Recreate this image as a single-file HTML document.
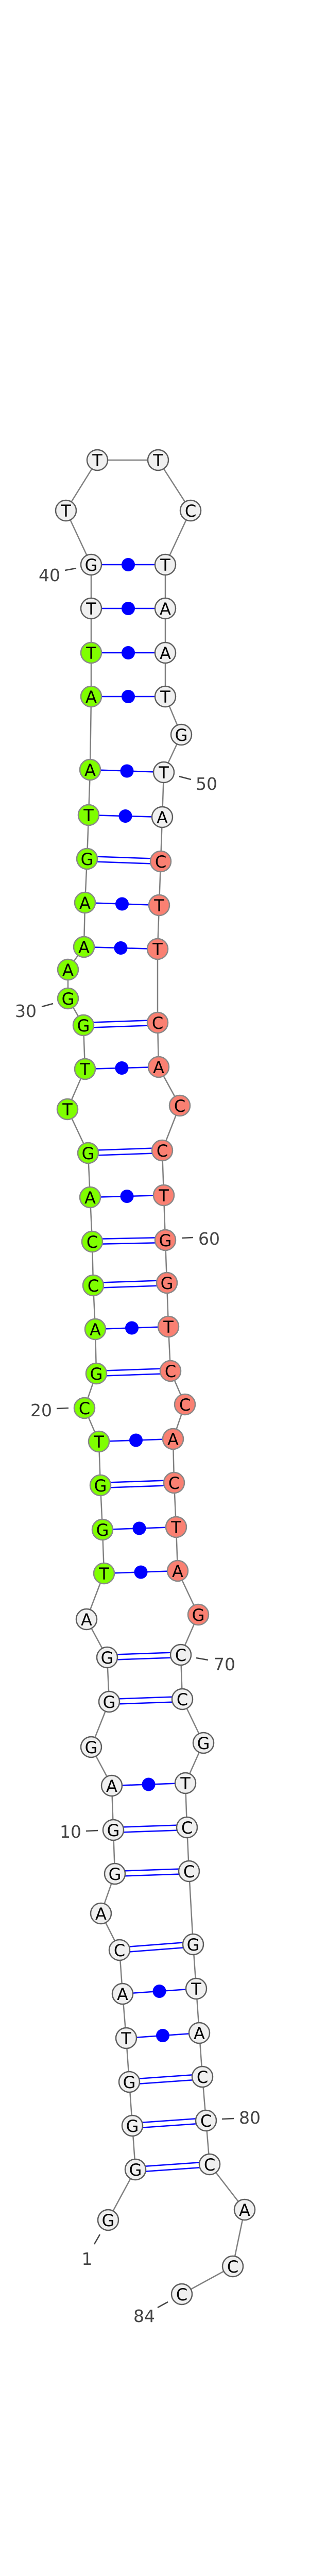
<!DOCTYPE html>
<html>
<head>
<meta charset="utf-8">
<style>
html,body{margin:0;padding:0;background:#fff;width:600px;height:5365px;overflow:hidden;position:relative;}
svg{display:block;position:absolute;left:0;top:0;}
.n text{font-family:"DejaVu Sans","Liberation Sans",sans-serif;font-size:32px;text-anchor:middle;fill:#000;}
.lbl{font-family:"DejaVu Sans","Liberation Sans",sans-serif;font-size:33px;text-anchor:middle;fill:#444;}
.w circle{fill:#f0f0f0;stroke:#5e5e5e;stroke-width:2.5;}
.g circle{fill:#7fff00;stroke:#888;stroke-width:2.5;}
.s circle{fill:#fa8072;stroke:#888;stroke-width:2.5;}
.b line{stroke:#0000ff;stroke-width:2.5;}
.t line{stroke:#444;stroke-width:2.5;}
</style>
</head>
<body>
<svg width="600" height="5365" viewBox="0 0 600 5365" xmlns="http://www.w3.org/2000/svg" overflow="hidden">
<polyline fill="none" stroke="#808080" stroke-width="2.5" points="210,4309 263,4211 257,4126 251,4041 245,3956 238,3870 232,3785 196,3714 223,3637 220,3552 217,3466 177,3391 212,3303 208,3217 168,3143 202,3054 199,2969 195,2883 192,2798 164,2733 187,2666 185,2580 181,2495 179,2410 175,2324 171,2238 131,2153 165,2075 162,1990 132,1938 132,1882 163,1838 165,1752 169,1667 172,1582 175,1494 177,1352 177,1267 177,1181 177,1096 128,991 189,893 307,893 370,991 321,1096 321,1181 321,1267 321,1352 352,1426 318,1499 315,1586 312,1672 309,1757 306,1842 306,1985 308,2071 349,2146 315,2233 318,2320 321,2407 324,2490 327,2575 331,2661 359,2726 336,2793 338,2878 342,2964 345,3049 385,3134 351,3212 354,3298 395,3383 360,3461 363,3547 367,3632 375,3774 381,3860 387,3946 393,4031 400,4116 407,4201 475,4289 452,4399 353,4453"/>
<g class="b">
<line x1="177" y1="1096" x2="321" y2="1096"/>
<line x1="177" y1="1181" x2="321" y2="1181"/>
<line x1="177" y1="1267" x2="321" y2="1267"/>
<line x1="177" y1="1352" x2="321" y2="1352"/>
<line x1="175" y1="1494" x2="318" y2="1499"/>
<line x1="172" y1="1582" x2="315" y2="1586"/>
<line x1="165" y1="1752" x2="309" y2="1757"/>
<line x1="163" y1="1838" x2="306" y2="1842"/>
<line x1="165" y1="2075" x2="308" y2="2071"/>
<line x1="175" y1="2324" x2="318" y2="2320"/>
<line x1="185" y1="2580" x2="327" y2="2575"/>
<line x1="192" y1="2798" x2="336" y2="2793"/>
<line x1="199" y1="2969" x2="342" y2="2964"/>
<line x1="202" y1="3054" x2="345" y2="3049"/>
<line x1="217" y1="3466" x2="360" y2="3461"/>
<line x1="238" y1="3870" x2="381" y2="3860"/>
<line x1="245" y1="3956" x2="387" y2="3946"/>
<line x1="169" y1="1662" x2="312" y2="1667"/><line x1="169" y1="1672" x2="312" y2="1677"/>
<line x1="162" y1="1985" x2="306" y2="1980"/><line x1="162" y1="1995" x2="306" y2="1990"/>
<line x1="171" y1="2233" x2="315" y2="2228"/><line x1="171" y1="2243" x2="315" y2="2238"/>
<line x1="179" y1="2405" x2="321" y2="2402"/><line x1="179" y1="2415" x2="321" y2="2412"/>
<line x1="181" y1="2490" x2="324" y2="2485"/><line x1="181" y1="2500" x2="324" y2="2495"/>
<line x1="187" y1="2661" x2="331" y2="2656"/><line x1="187" y1="2671" x2="331" y2="2666"/>
<line x1="195" y1="2878" x2="338" y2="2873"/><line x1="195" y1="2888" x2="338" y2="2883"/>
<line x1="208" y1="3212" x2="351" y2="3207"/><line x1="208" y1="3222" x2="351" y2="3217"/>
<line x1="212" y1="3298" x2="354" y2="3293"/><line x1="212" y1="3308" x2="354" y2="3303"/>
<line x1="220" y1="3547" x2="363" y2="3542"/><line x1="220" y1="3557" x2="363" y2="3552"/>
<line x1="223" y1="3632" x2="367" y2="3627"/><line x1="223" y1="3642" x2="367" y2="3637"/>
<line x1="232" y1="3780" x2="375" y2="3769"/><line x1="232" y1="3790" x2="375" y2="3779"/>
<line x1="251" y1="4036" x2="393" y2="4026"/><line x1="251" y1="4046" x2="393" y2="4036"/>
<line x1="257" y1="4121" x2="400" y2="4111"/><line x1="257" y1="4131" x2="400" y2="4121"/>
<line x1="263" y1="4206" x2="407" y2="4196"/><line x1="263" y1="4216" x2="407" y2="4206"/>
</g>
<g fill="#0000ff">
<circle cx="249" cy="1096" r="13"/>
<circle cx="249" cy="1181" r="13"/>
<circle cx="249" cy="1267" r="13"/>
<circle cx="249" cy="1352" r="13"/>
<circle cx="246.5" cy="1496.5" r="13"/>
<circle cx="243.5" cy="1584" r="13"/>
<circle cx="237" cy="1754.5" r="13"/>
<circle cx="234.5" cy="1840" r="13"/>
<circle cx="236.5" cy="2073" r="13"/>
<circle cx="246.5" cy="2322" r="13"/>
<circle cx="256" cy="2577.5" r="13"/>
<circle cx="264" cy="2795.5" r="13"/>
<circle cx="270.5" cy="2966.5" r="13"/>
<circle cx="273.5" cy="3051.5" r="13"/>
<circle cx="288.5" cy="3463.5" r="13"/>
<circle cx="309.5" cy="3865" r="13"/>
<circle cx="316" cy="3951" r="13"/>
</g>
<g class="t">
<line x1="126" y1="1107" x2="148" y2="1103"/>
<line x1="348" y1="1507" x2="371" y2="1513"/>
<line x1="81" y1="1954" x2="103" y2="1948"/>
<line x1="110" y1="2734" x2="133" y2="2733"/>
<line x1="353" y1="2403" x2="375" y2="2402"/>
<line x1="381" y1="3218" x2="404" y2="3222"/>
<line x1="167" y1="3554" x2="190" y2="3553"/>
<line x1="431" y1="4113" x2="454" y2="4112"/>
<line x1="194" y1="4337" x2="183" y2="4356"/>
<line x1="326" y1="4468" x2="306" y2="4479"/>
</g>
<g class="n">
<g class="w"><circle cx="210" cy="4309" r="20"/><text x="210" y="4321">G</text></g>
<g class="w"><circle cx="263" cy="4211" r="20"/><text x="263" y="4223">G</text></g>
<g class="w"><circle cx="257" cy="4126" r="20"/><text x="257" y="4138">G</text></g>
<g class="w"><circle cx="251" cy="4041" r="20"/><text x="251" y="4053">G</text></g>
<g class="w"><circle cx="245" cy="3956" r="20"/><text x="245" y="3968">T</text></g>
<g class="w"><circle cx="238" cy="3870" r="20"/><text x="238" y="3882">A</text></g>
<g class="w"><circle cx="232" cy="3785" r="20"/><text x="232" y="3797">C</text></g>
<g class="w"><circle cx="196" cy="3714" r="20"/><text x="196" y="3726">A</text></g>
<g class="w"><circle cx="223" cy="3637" r="20"/><text x="223" y="3649">G</text></g>
<g class="w"><circle cx="220" cy="3552" r="20"/><text x="220" y="3564">G</text></g>
<g class="w"><circle cx="217" cy="3466" r="20"/><text x="217" y="3478">A</text></g>
<g class="w"><circle cx="177" cy="3391" r="20"/><text x="177" y="3403">G</text></g>
<g class="w"><circle cx="212" cy="3303" r="20"/><text x="212" y="3315">G</text></g>
<g class="w"><circle cx="208" cy="3217" r="20"/><text x="208" y="3229">G</text></g>
<g class="w"><circle cx="168" cy="3143" r="20"/><text x="168" y="3155">A</text></g>
<g class="g"><circle cx="202" cy="3054" r="20"/><text x="202" y="3066">T</text></g>
<g class="g"><circle cx="199" cy="2969" r="20"/><text x="199" y="2981">G</text></g>
<g class="g"><circle cx="195" cy="2883" r="20"/><text x="195" y="2895">G</text></g>
<g class="g"><circle cx="192" cy="2798" r="20"/><text x="192" y="2810">T</text></g>
<g class="g"><circle cx="164" cy="2733" r="20"/><text x="164" y="2745">C</text></g>
<g class="g"><circle cx="187" cy="2666" r="20"/><text x="187" y="2678">G</text></g>
<g class="g"><circle cx="185" cy="2580" r="20"/><text x="185" y="2592">A</text></g>
<g class="g"><circle cx="181" cy="2495" r="20"/><text x="181" y="2507">C</text></g>
<g class="g"><circle cx="179" cy="2410" r="20"/><text x="179" y="2422">C</text></g>
<g class="g"><circle cx="175" cy="2324" r="20"/><text x="175" y="2336">A</text></g>
<g class="g"><circle cx="171" cy="2238" r="20"/><text x="171" y="2250">G</text></g>
<g class="g"><circle cx="131" cy="2153" r="20"/><text x="131" y="2165">T</text></g>
<g class="g"><circle cx="165" cy="2075" r="20"/><text x="165" y="2087">T</text></g>
<g class="g"><circle cx="162" cy="1990" r="20"/><text x="162" y="2002">G</text></g>
<g class="g"><circle cx="132" cy="1938" r="20"/><text x="132" y="1950">G</text></g>
<g class="g"><circle cx="132" cy="1882" r="20"/><text x="132" y="1894">A</text></g>
<g class="g"><circle cx="163" cy="1838" r="20"/><text x="163" y="1850">A</text></g>
<g class="g"><circle cx="165" cy="1752" r="20"/><text x="165" y="1764">A</text></g>
<g class="g"><circle cx="169" cy="1667" r="20"/><text x="169" y="1679">G</text></g>
<g class="g"><circle cx="172" cy="1582" r="20"/><text x="172" y="1594">T</text></g>
<g class="g"><circle cx="175" cy="1494" r="20"/><text x="175" y="1506">A</text></g>
<g class="g"><circle cx="177" cy="1352" r="20"/><text x="177" y="1364">A</text></g>
<g class="g"><circle cx="177" cy="1267" r="20"/><text x="177" y="1279">T</text></g>
<g class="w"><circle cx="177" cy="1181" r="20"/><text x="177" y="1193">T</text></g>
<g class="w"><circle cx="177" cy="1096" r="20"/><text x="177" y="1108">G</text></g>
<g class="w"><circle cx="128" cy="991" r="20"/><text x="128" y="1003">T</text></g>
<g class="w"><circle cx="189" cy="893" r="20"/><text x="189" y="905">T</text></g>
<g class="w"><circle cx="307" cy="893" r="20"/><text x="307" y="905">T</text></g>
<g class="w"><circle cx="370" cy="991" r="20"/><text x="370" y="1003">C</text></g>
<g class="w"><circle cx="321" cy="1096" r="20"/><text x="321" y="1108">T</text></g>
<g class="w"><circle cx="321" cy="1181" r="20"/><text x="321" y="1193">A</text></g>
<g class="w"><circle cx="321" cy="1267" r="20"/><text x="321" y="1279">A</text></g>
<g class="w"><circle cx="321" cy="1352" r="20"/><text x="321" y="1364">T</text></g>
<g class="w"><circle cx="352" cy="1426" r="20"/><text x="352" y="1438">G</text></g>
<g class="w"><circle cx="318" cy="1499" r="20"/><text x="318" y="1511">T</text></g>
<g class="w"><circle cx="315" cy="1586" r="20"/><text x="315" y="1598">A</text></g>
<g class="s"><circle cx="312" cy="1672" r="20"/><text x="312" y="1684">C</text></g>
<g class="s"><circle cx="309" cy="1757" r="20"/><text x="309" y="1769">T</text></g>
<g class="s"><circle cx="306" cy="1842" r="20"/><text x="306" y="1854">T</text></g>
<g class="s"><circle cx="306" cy="1985" r="20"/><text x="306" y="1997">C</text></g>
<g class="s"><circle cx="308" cy="2071" r="20"/><text x="308" y="2083">A</text></g>
<g class="s"><circle cx="349" cy="2146" r="20"/><text x="349" y="2158">C</text></g>
<g class="s"><circle cx="315" cy="2233" r="20"/><text x="315" y="2245">C</text></g>
<g class="s"><circle cx="318" cy="2320" r="20"/><text x="318" y="2332">T</text></g>
<g class="s"><circle cx="321" cy="2407" r="20"/><text x="321" y="2419">G</text></g>
<g class="s"><circle cx="324" cy="2490" r="20"/><text x="324" y="2502">G</text></g>
<g class="s"><circle cx="327" cy="2575" r="20"/><text x="327" y="2587">T</text></g>
<g class="s"><circle cx="331" cy="2661" r="20"/><text x="331" y="2673">C</text></g>
<g class="s"><circle cx="359" cy="2726" r="20"/><text x="359" y="2738">C</text></g>
<g class="s"><circle cx="336" cy="2793" r="20"/><text x="336" y="2805">A</text></g>
<g class="s"><circle cx="338" cy="2878" r="20"/><text x="338" y="2890">C</text></g>
<g class="s"><circle cx="342" cy="2964" r="20"/><text x="342" y="2976">T</text></g>
<g class="s"><circle cx="345" cy="3049" r="20"/><text x="345" y="3061">A</text></g>
<g class="s"><circle cx="385" cy="3134" r="20"/><text x="385" y="3146">G</text></g>
<g class="w"><circle cx="351" cy="3212" r="20"/><text x="351" y="3224">C</text></g>
<g class="w"><circle cx="354" cy="3298" r="20"/><text x="354" y="3310">C</text></g>
<g class="w"><circle cx="395" cy="3383" r="20"/><text x="395" y="3395">G</text></g>
<g class="w"><circle cx="360" cy="3461" r="20"/><text x="360" y="3473">T</text></g>
<g class="w"><circle cx="363" cy="3547" r="20"/><text x="363" y="3559">C</text></g>
<g class="w"><circle cx="367" cy="3632" r="20"/><text x="367" y="3644">C</text></g>
<g class="w"><circle cx="375" cy="3774" r="20"/><text x="375" y="3786">G</text></g>
<g class="w"><circle cx="381" cy="3860" r="20"/><text x="381" y="3872">T</text></g>
<g class="w"><circle cx="387" cy="3946" r="20"/><text x="387" y="3958">A</text></g>
<g class="w"><circle cx="393" cy="4031" r="20"/><text x="393" y="4043">C</text></g>
<g class="w"><circle cx="400" cy="4116" r="20"/><text x="400" y="4128">C</text></g>
<g class="w"><circle cx="407" cy="4201" r="20"/><text x="407" y="4213">C</text></g>
<g class="w"><circle cx="475" cy="4289" r="20"/><text x="475" y="4301">A</text></g>
<g class="w"><circle cx="452" cy="4399" r="20"/><text x="452" y="4411">C</text></g>
<g class="w"><circle cx="353" cy="4453" r="20"/><text x="353" y="4465">C</text></g>
</g>
<text class="lbl" x="96" y="1128">40</text>
<text class="lbl" x="401" y="1533">50</text>
<text class="lbl" x="50" y="1974">30</text>
<text class="lbl" x="80" y="2749">20</text>
<text class="lbl" x="406" y="2416">60</text>
<text class="lbl" x="436" y="3242">70</text>
<text class="lbl" x="137" y="3567">10</text>
<text class="lbl" x="485" y="4122">80</text>
<text class="lbl" x="169" y="4396">1</text>
<text class="lbl" x="280" y="4507">84</text>
<text x="300" y="5359" text-anchor="middle" font-family="'DejaVu Sans','Liberation Sans',sans-serif" font-weight="bold" font-size="11.5" fill="#000">eca-mir-412_annot [-36.8]</text>
</svg>
</body>
</html>
